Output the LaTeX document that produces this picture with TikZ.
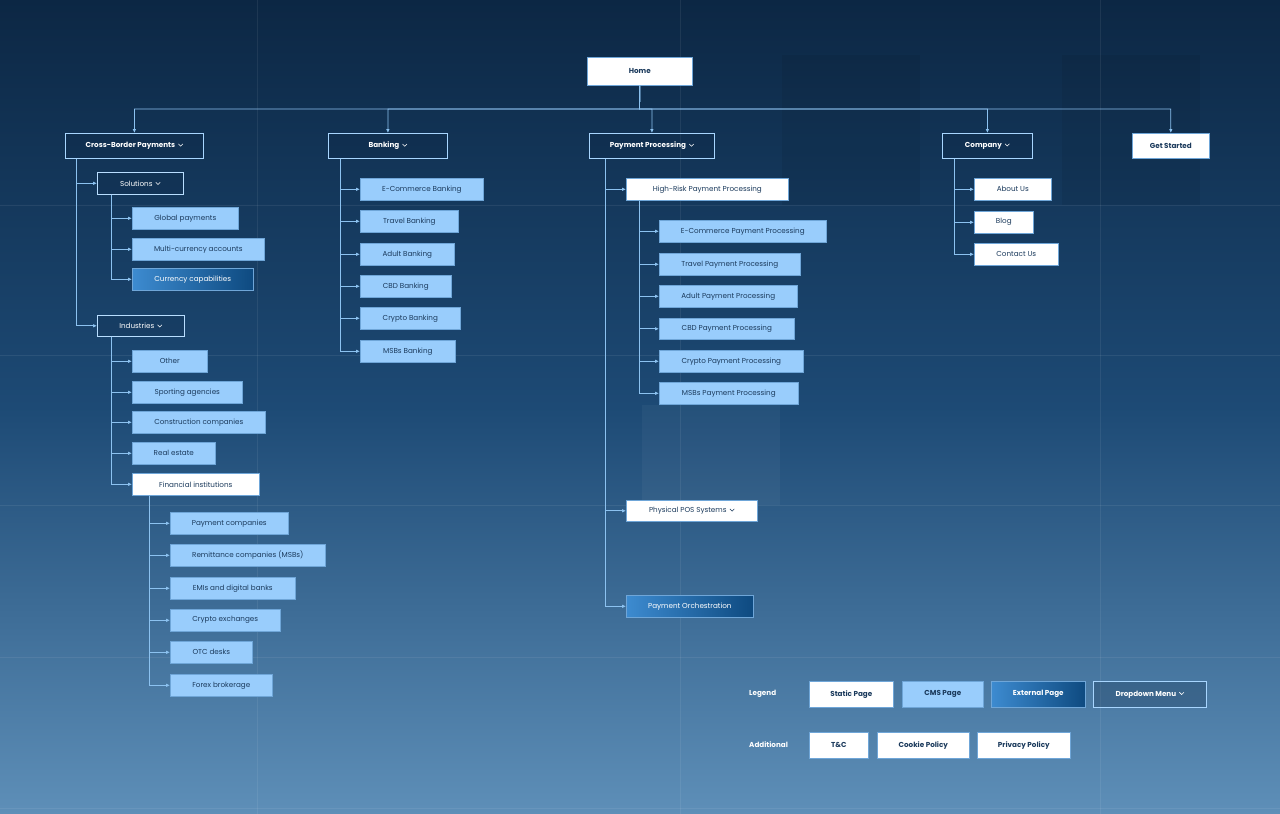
\documentclass[tikz,border=0pt]{standalone}
\usepackage{fontspec}
\setmainfont{Poppins}
\usetikzlibrary{arrows.meta}
\definecolor{navy}{HTML}{1B3A5C}
\definecolor{cms}{HTML}{99CDFC}
\definecolor{cmsb}{HTML}{6FA6D8}
\definecolor{ln}{HTML}{8CC2F0}
\definecolor{ddb}{HTML}{A8D6FF}
\definecolor{bgt}{HTML}{0C2744}
\definecolor{bgb}{HTML}{5E8FB8}
\definecolor{bgm}{HTML}{1D4A75}
\newcommand\chev[1]{\hspace{3pt}\tikz[baseline=-0.5pt,x=1pt,y=1pt]\draw[line width=0.55pt,#1] (0,3.2)--(2.2,1)--(4.4,3.2);}
\newcommand\bx[7]{\node[#6,minimum width={#4pt-#2pt},minimum height={#5pt-#3pt},anchor=north west] (#1) at (#2,#3) {#7};}
\tikzset{
 every node/.style={inner sep=0pt,font=\fontsize{7.2}{9}\selectfont},
 static/.style={fill=white,draw=cmsb,line width=0.6pt,text=navy},
 staticb/.style={static,font=\fontsize{7.2}{9}\selectfont\bfseries},
 cmsn/.style={fill=cms,draw=cmsb,line width=0.6pt,text=navy},
 extn/.style={left color=HTML3D8BD0,right color=HTML0E4A80,draw=cmsb,line width=0.6pt,text=white},
 dd/.style={fill=bgt,fill opacity=0.25,text opacity=1,draw=ddb,line width=0.8pt,text=white,font=\fontsize{7.2}{9}\selectfont\bfseries},
 dds/.style={fill=bgt,fill opacity=0.2,text opacity=1,draw=ddb!80,line width=0.6pt,text=white!90},
 arr/.style={draw=ln,line width=0.8pt,-{Latex[length=4pt,width=3.6pt]}},
 grid/.style={draw=white,opacity=0.07,line width=0.6pt},
}
\colorlet{HTML3D8BD0}{blue}
\definecolor{HTML3D8BD0}{HTML}{3D8BD0}
\definecolor{HTML0E4A80}{HTML}{0E4A80}
\begin{document}
\begin{tikzpicture}[x=1pt,y=-1pt]
\useasboundingbox (0,0) rectangle (1280,814);
\shade[top color=bgt,bottom color=bgb,middle color=bgm] (0,0) rectangle (1280,814);
\fill[black,opacity=0.06] (782,55) rectangle (920,205);
\fill[black,opacity=0.06] (1062,55) rectangle (1200,205);
\fill[white,opacity=0.04] (642,405) rectangle (780,505);
\foreach \x in {257,680,1100} \draw[grid] (\x,0) -- (\x,814);
\foreach \y in {205,355,505,657,808} \draw[grid] (0,\y) -- (1280,\y);
% top
\bx{home}{587}{57}{692}{85}{staticb}{Home}
\bx{cb}{65}{133}{203}{158}{dd}{Cross-Border Payments\chev{white}}
\bx{bank}{328}{133}{447}{158}{dd}{Banking\chev{white}}
\bx{pp}{589}{133}{714}{158}{dd}{Payment Processing\chev{white}}
\bx{comp}{942}{133}{1032}{158}{dd}{Company\chev{white}}
\bx{gs}{1132}{133}{1209}{158}{staticb}{Get Started}
\coordinate (bus) at (639.5,109);
\foreach \n in {cb,bank,pp,comp,gs} \draw[arr] (home.south) -- (bus) -| (\n.north);
% cross-border
\bx{sol}{97}{172}{183}{194}{dds}{Solutions\chev{white}}
\bx{ind}{97}{315}{184}{336}{dds}{Industries\chev{white}}
\foreach \n in {sol,ind} \draw[arr] ([xshift=11pt]cb.south west) |- (\n.west);
\bx{gp}{132}{207}{238}{229}{cmsn}{Global payments}
\bx{mc}{132}{238}{264}{260}{cmsn}{Multi-currency accounts}
\bx{cc}{132}{268}{253}{290}{extn}{Currency capabilities}
\foreach \n in {gp,mc,cc} \draw[arr] ([xshift=14pt]sol.south west) |- (\n.west);
\bx{oth}{132}{350}{207}{372}{cmsn}{Other}
\bx{spa}{132}{381}{242}{403}{cmsn}{Sporting agencies}
\bx{con}{132}{411}{265}{433}{cmsn}{Construction companies}
\bx{rea}{132}{442}{215}{464}{cmsn}{Real estate}
\bx{fin}{132}{473}{259}{495}{static}{Financial institutions}
\foreach \n in {oth,spa,con,rea,fin} \draw[arr] ([xshift=14pt]ind.south west) |- (\n.west);
\bx{pc}{170}{512}{288}{534}{cmsn}{Payment companies}
\bx{rc}{170}{544}{325}{566}{cmsn}{Remittance companies (MSBs)}
\bx{emi}{170}{577}{295}{599}{cmsn}{EMIs and digital banks}
\bx{cex}{170}{609}{280}{631}{cmsn}{Crypto exchanges}
\bx{otc}{170}{641}{252}{663}{cmsn}{OTC desks}
\bx{fx}{170}{674}{272}{696}{cmsn}{Forex brokerage}
\foreach \n in {pc,rc,emi,cex,otc,fx} \draw[arr] ([xshift=17pt]fin.south west) |- (\n.west);
% banking
\bx{b1}{360}{178}{483}{200}{cmsn}{E-Commerce Banking}
\bx{b2}{360}{210}{458}{232}{cmsn}{Travel Banking}
\bx{b3}{360}{243}{454}{265}{cmsn}{Adult Banking}
\bx{b4}{360}{275}{451}{297}{cmsn}{CBD Banking}
\bx{b5}{360}{307}{460}{329}{cmsn}{Crypto Banking}
\bx{b6}{360}{340}{455}{362}{cmsn}{MSBs Banking}
\foreach \n in {b1,b2,b3,b4,b5,b6} \draw[arr] ([xshift=12pt]bank.south west) |- (\n.west);
% payment processing
\bx{hr}{626}{178}{788}{200}{static}{High-Risk Payment Processing}
\bx{pos}{626}{500}{757}{521}{static}{Physical POS Systems\chev{navy}}
\bx{po}{626}{595}{753}{617}{extn}{Payment Orchestration}
\foreach \n in {hr,pos,po} \draw[arr] ([xshift=16pt]pp.south west) |- (\n.west);
\bx{p1}{659}{220}{826}{242}{cmsn}{E-Commerce Payment Processing}
\bx{p2}{659}{253}{800}{275}{cmsn}{Travel Payment Processing}
\bx{p3}{659}{285}{797}{307}{cmsn}{Adult Payment Processing}
\bx{p4}{659}{318}{794}{339}{cmsn}{CBD Payment Processing}
\bx{p5}{659}{350}{803}{372}{cmsn}{Crypto Payment Processing}
\bx{p6}{659}{382}{798}{404}{cmsn}{MSBs Payment Processing}
\foreach \n in {p1,p2,p3,p4,p5,p6} \draw[arr] ([xshift=13pt]hr.south west) |- (\n.west);
% company
\bx{c1}{974}{178}{1051}{200}{static}{About Us}
\bx{c2}{974}{211}{1033}{233}{static}{Blog}
\bx{c3}{974}{243}{1058}{265}{static}{Contact Us}
\foreach \n in {c1,c2,c3} \draw[arr] ([xshift=12pt]comp.south west) |- (\n.west);
% legend
\node[anchor=west,text=white,font=\fontsize{7.2}{9}\selectfont\bfseries] (leg) at (749,694) {Legend};
\node[anchor=west,text=white,font=\fontsize{7.2}{9}\selectfont\bfseries] (add) at (749,745) {Additional};
\bx{l1}{809}{681}{893}{707}{staticb}{Static Page}
\bx{l2}{902}{681}{983}{707}{cmsn,font=\fontsize{7.2}{9}\selectfont\bfseries}{CMS Page}
\bx{l3}{991}{681}{1085}{707}{extn,font=\fontsize{7.2}{9}\selectfont\bfseries}{External Page}
\bx{l4}{1093}{681}{1206}{707}{dd,line width=0.6pt}{Dropdown Menu\chev{white}}
\bx{a1}{809}{732}{868}{758}{staticb}{T\&C}
\bx{a2}{877}{732}{969}{758}{staticb}{Cookie Policy}
\bx{a3}{977}{732}{1070}{758}{staticb}{Privacy Policy}
\end{tikzpicture}
\end{document}
